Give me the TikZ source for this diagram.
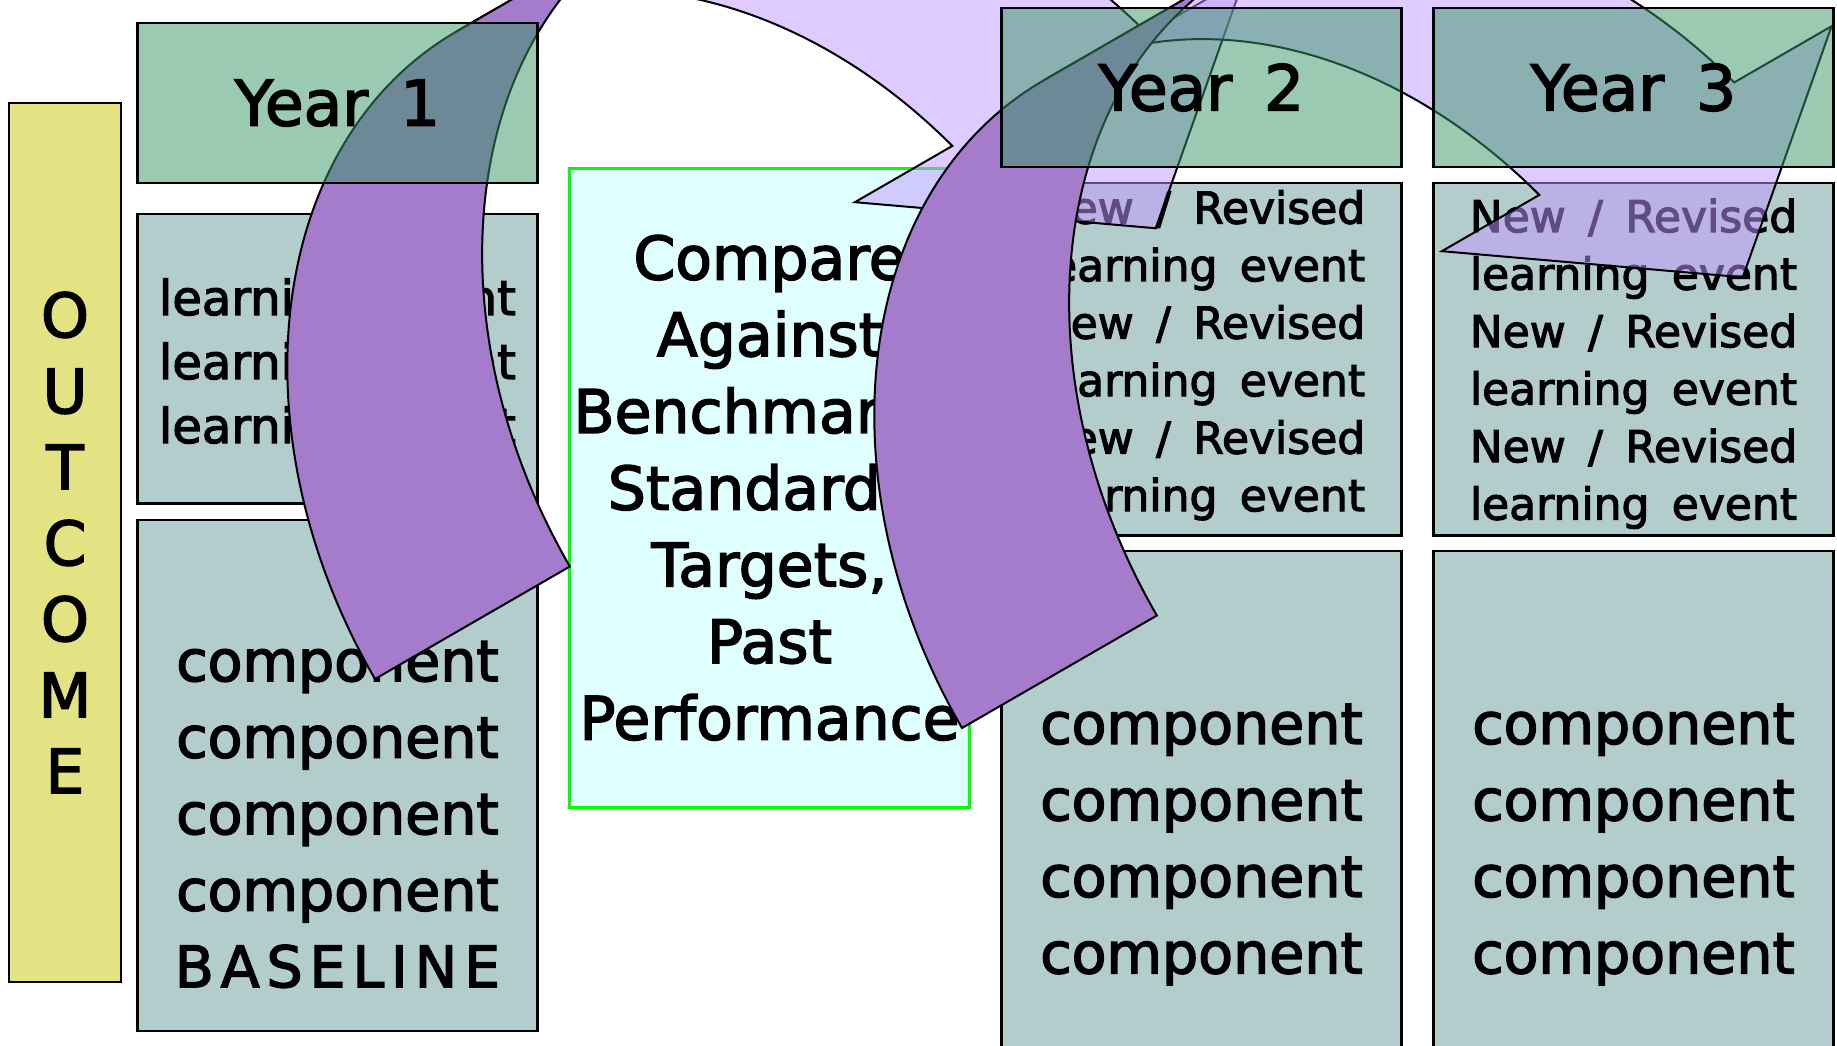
\documentclass[tikz,border=0pt]{standalone}
\usepackage{fontspec}
\setmainfont{DejaVu Sans}[FakeBold=2.5, WordSpace=1.6]
\usepackage{tikz}

\definecolor{outcomeyellow}{HTML}{E3E383}
\definecolor{yeargreen}{HTML}{379767}
\definecolor{cellgray}{HTML}{B3CCCC}
\definecolor{comparecyan}{HTML}{E0FFFF}
\definecolor{comparegreen}{HTML}{00FF00}
\definecolor{arrowdark}{HTML}{A57BCB}
\definecolor{arrowlight}{HTML}{C199FF}

\begin{document}
\begin{tikzpicture}[x=1pt, y=1pt,
    cell/.style={draw, line width=2.5pt, fill=cellgray, minimum width=400pt,
      inner sep=0pt, align=center},
    yearcell/.style={cell, fill=yeargreen, fill opacity=.5, text opacity=1,
      minimum height=159pt, font=\fontsize{63}{76}\selectfont},
    compcell/.style={cell, font=\fontsize{57}{76.5}\selectfont},
    backarrow/.style={draw, line width=2pt, fill=arrowdark},
    frontarrow/.style={draw, line width=2pt, fill=arrowlight, fill opacity=.5},
    bandradii/.style={x radius=394.5, y radius=520}
  ]
  \fill[white] (0,0) rectangle (1837,-1045);
  \useasboundingbox (0,0) rectangle (1837,-1045);
  \clip (0,0) rectangle (1837,-1045);

  %side label
  \node[cell, fill=outcomeyellow, minimum width=112pt, minimum height=879pt,
    font=\fontsize{61}{76}\selectfont] (outcome) at (65,-542.5)
    {O\\U\\T\\C\\O\\M\\E};

  %first year, the baseline column
  \node[cell, minimum height=289.5pt] (events1) at (337.5,-358.75) {};
  \node[align=center, font=\fontsize{48}{64}\selectfont] (events1text)
    at ([yshift=-7pt]events1.center)
    {learning event\\learning event\\learning event};
  \node[cell, minimum height=511pt] (base) at (337.5,-775.5) {};
  \node[align=center, font=\fontsize{57}{76.5}\selectfont] (basetext)
    at ([yshift=-39pt]base.center)
    {component\\component\\component\\component\\
     {\addfontfeature{LetterSpace=12}BASELINE}};

  %the comparison in the middle
  \node[cell, fill=comparecyan, draw=comparegreen, line width=3pt,
    minimum height=639.5pt, font=\fontsize{60}{76.7}\selectfont] (compare)
    at (769.5,-487.75)
    {Compare\\Against\\Benchmarks,\\Standards,\\Targets,\\Past\\Performance};

  %years 2 and 3
  \foreach \yr/\x/\dy in {2/1201.5/4, 3/1633.5/-4.5} {
    \node[cell, minimum height=352.5pt] (events\yr) at (\x,-359.25) {};
    \node[align=center, font=\fontsize{44}{57.5}\selectfont] (events\yr text)
      at ([yshift=\dy pt]events\yr.center)
      {New / Revised\\learning event\\New / Revised\\learning event\\New / Revised\\learning event};
    \node[compcell, minimum height=587pt] (comp\yr) at (\x,-844.5)
      {component\\component\\component\\component};
  }

  %curved arrows: light front band with head, dark back band
  \foreach \sx/\sy in {375/-679, 962/-728} {
    \begin{scope}[shift={(\sx,\sy)}, rotate=30]
      \filldraw[frontarrow] (901.5,0) -- (654,173) -- (766.5,173)
        arc[bandradii, start angle=19.43, end angle=90] -- ++(225,0)
        arc[bandradii, start angle=90, end angle=19.43] -- (1104,173) -- cycle;
      \filldraw[backarrow] (0,0) arc[bandradii, start angle=180, end angle=90]
        -- ++(225,0) arc[bandradii, start angle=90, end angle=180] -- cycle;
    \end{scope}
  }

  %year headers go on top, half transparent
  \node[yearcell, minimum height=160pt] (year1) at (337.5,-103) {Year 1};
  \node[yearcell] (year2) at (1201.5,-87.5) {Year 2};
  \node[yearcell] (year3) at (1633.5,-87.5) {Year 3};
\end{tikzpicture}
\end{document}
